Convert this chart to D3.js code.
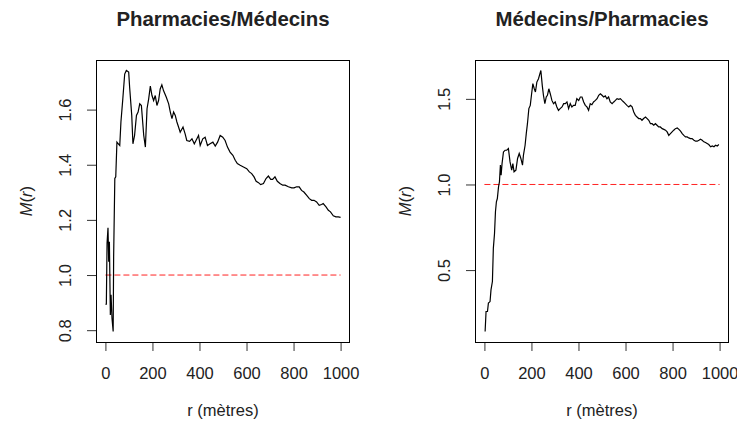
<!DOCTYPE html>
<html>
<head>
<meta charset="utf-8">
<script src="https://cdn.jsdelivr.net/npm/d3@7"></script>
<style>
  body { margin: 0; background: #fff; }
  text { font-family: "Liberation Sans", Arial, sans-serif; fill: #222; }
</style>
</head>
<body>
<div id="chart"></div>
<script>
// valeurs
const titres = ["Pharmacies/Médecins", "Médecins/Pharmacies"];
const xTicks = [0, 200, 400, 600, 800, 1000];
const yTicksPM = [0.8, 1.0, 1.2, 1.4, 1.6];
const yTicksMP = [0.5, 1.0, 1.5];
const reference = 1;

// Pharmacies/Médecins
const rPM = [0, 4, 7, 11, 14, 17, 21, 24, 28, 33, 35, 40, 44, 49, 55, 61, 66, 74, 82, 89,
  99, 103, 112, 117, 124, 132, 139, 146, 153, 163, 170, 177, 184, 191, 198, 205, 212, 219, 226, 233,
  240, 247, 259, 269, 276, 283, 290, 297, 304, 311, 318, 330, 339, 346, 358, 368, 378, 389, 396, 403,
  414, 424, 434, 445, 457, 467, 477, 488, 499, 509, 519, 530, 542, 552, 561, 573, 587, 601, 612, 622,
  632, 641, 651, 660, 672, 683, 693, 703, 711, 721, 731, 742, 754, 764, 778, 792, 802, 813, 824, 834,
  844, 856, 867, 877, 887, 898, 909, 919, 926, 938, 948, 957, 969, 980, 990, 1000];
const mPM = [0.894, 0.894, 1.115, 1.171, 1.048, 1.121, 0.855, 0.928, 0.843, 0.795, 1.066, 1.350, 1.356, 1.482, 1.476, 1.470, 1.555, 1.639, 1.729, 1.742,
  1.736, 1.681, 1.579, 1.476, 1.506, 1.579, 1.591, 1.621, 1.615, 1.506, 1.464, 1.603, 1.639, 1.685, 1.651, 1.633, 1.651, 1.615, 1.633, 1.675,
  1.690, 1.669, 1.645, 1.621, 1.591, 1.567, 1.591, 1.579, 1.555, 1.537, 1.518, 1.537, 1.512, 1.488, 1.485, 1.494, 1.476, 1.494, 1.506, 1.470,
  1.494, 1.500, 1.470, 1.476, 1.482, 1.468, 1.482, 1.506, 1.500, 1.488, 1.464, 1.446, 1.434, 1.416, 1.404, 1.398, 1.392, 1.386, 1.374, 1.368,
  1.356, 1.340, 1.335, 1.328, 1.332, 1.350, 1.359, 1.347, 1.347, 1.356, 1.340, 1.332, 1.326, 1.326, 1.320, 1.316, 1.316, 1.320, 1.320, 1.307,
  1.301, 1.289, 1.277, 1.271, 1.271, 1.265, 1.253, 1.256, 1.259, 1.247, 1.235, 1.229, 1.215, 1.211, 1.211, 1.209];

// Médecins/Pharmacies
const rMP = [3, 7, 13, 17, 24, 28, 34, 38, 43, 47, 51, 55, 60, 64, 68, 71, 75, 81, 88, 95,
  102, 109, 116, 121, 126, 134, 141, 148, 155, 162, 166, 173, 178, 183, 189, 195, 200, 206, 212, 217,
  223, 230, 234, 240, 246, 251, 257, 263, 268, 274, 280, 287, 294, 301, 308, 315, 322, 330, 337, 344,
  351, 358, 365, 372, 379, 386, 393, 401, 408, 415, 422, 429, 436, 443, 450, 457, 464, 472, 479, 486,
  493, 500, 507, 514, 521, 528, 535, 543, 550, 557, 564, 571, 578, 585, 592, 599, 606, 614, 621, 628,
  635, 642, 649, 656, 663, 670, 677, 685, 692, 699, 706, 713, 720, 727, 734, 741, 748, 756, 763, 770,
  777, 784, 791, 798, 805, 812, 820, 827, 834, 841, 848, 855, 862, 869, 876, 883, 891, 898, 905, 912,
  919, 926, 933, 940, 947, 954, 962, 969, 976, 983, 990, 997];
const mMP = [0.141, 0.258, 0.258, 0.307, 0.316, 0.384, 0.433, 0.627, 0.714, 0.841, 0.899, 0.918, 0.986, 1.016, 1.113, 1.054, 1.122, 1.190, 1.200, 1.200,
  1.210, 1.132, 1.084, 1.122, 1.074, 1.084, 1.152, 1.181, 1.152, 1.113, 1.171, 1.229, 1.297, 1.355, 1.443, 1.462, 1.521, 1.589, 1.559, 1.540,
  1.598, 1.618, 1.637, 1.666, 1.579, 1.521, 1.472, 1.511, 1.521, 1.559, 1.530, 1.491, 1.472, 1.482, 1.453, 1.433, 1.443, 1.453, 1.472, 1.472,
  1.482, 1.443, 1.472, 1.453, 1.462, 1.462, 1.501, 1.491, 1.511, 1.511, 1.482, 1.462, 1.453, 1.433, 1.472, 1.466, 1.482, 1.491, 1.501, 1.521,
  1.530, 1.521, 1.511, 1.517, 1.501, 1.511, 1.482, 1.472, 1.482, 1.491, 1.501, 1.497, 1.501, 1.491, 1.482, 1.472, 1.462, 1.453, 1.462, 1.453,
  1.423, 1.404, 1.394, 1.385, 1.385, 1.375, 1.385, 1.394, 1.385, 1.375, 1.355, 1.355, 1.346, 1.355, 1.346, 1.336, 1.336, 1.326, 1.322, 1.317,
  1.307, 1.287, 1.297, 1.307, 1.317, 1.326, 1.330, 1.322, 1.311, 1.297, 1.287, 1.278, 1.278, 1.272, 1.268, 1.268, 1.258, 1.253, 1.253, 1.258,
  1.264, 1.258, 1.249, 1.245, 1.239, 1.233, 1.220, 1.225, 1.220, 1.229, 1.225, 1.233];

const width = 737, height = 423;
const plotTop = 60, plotBottom = 342;

const svg = d3.select('#chart').append('svg')
  .attr('width', width)
  .attr('height', height);

// domaine a la R : etendue + 4%
function pad(ext){
  const d = (ext[1] - ext[0]) * 0.04;
  return [ext[0] - d, ext[1] + d];
}

function panel(left, right, titre, rs, ms, yTicks){
  const x = d3.scaleLinear().domain(pad([0, 1000])).range([left, right]);
  const y = d3.scaleLinear().domain(pad(d3.extent(ms))).range([plotBottom, plotTop]);
  const g = svg.append('g');
  const cx = (left + right) / 2;

  // titre
  g.append('text')
    .attr('x', cx).attr('y', 26)
    .attr('text-anchor', 'middle')
    .style('font-size', '20.4px')
    .style('font-weight', 'bold')
    .text(titre);

  // axe x
  const ax = g.append('g').attr('transform', `translate(0,${plotBottom})`)
    .call(d3.axisBottom(x).tickValues(xTicks).tickSize(9).tickSizeOuter(0).tickPadding(16).tickFormat(d3.format('d')));
  ax.select('.domain').remove();
  ax.selectAll('line').attr('stroke', '#333');
  ax.selectAll('text').style('font-size', '16.5px').attr('fill', '#222').style('font-family', '"Liberation Sans", Arial, sans-serif');

  // axe y (etiquettes verticales)
  const ay = g.append('g').attr('transform', `translate(${left},0)`)
    .call(d3.axisLeft(y).tickValues(yTicks).tickSize(9).tickSizeOuter(0).tickFormat(d3.format('.1f')));
  ay.select('.domain').remove();
  ay.selectAll('line').attr('stroke', '#333');
  ay.selectAll('text')
    .attr('x', null).attr('dy', null)
    .attr('text-anchor', 'middle')
    .attr('transform', 'translate(-25,0) rotate(-90)')
    .attr('fill', '#222')
    .style('font-size', '16.5px')
    .style('font-family', '"Liberation Sans", Arial, sans-serif');

  // libelles
  g.append('text')
    .attr('x', cx).attr('y', 416)
    .attr('text-anchor', 'middle')
    .style('font-size', '16.5px')
    .text('r (mètres)');

  const lab = g.append('text')
    .attr('transform', `translate(${left - 64},${(plotTop + plotBottom) / 2}) rotate(-90)`)
    .attr('text-anchor', 'middle')
    .style('font-size', '16.5px');
  lab.append('tspan').style('font-style', 'italic').text('M');
  lab.append('tspan').text('(');
  lab.append('tspan').style('font-style', 'italic').text('r');
  lab.append('tspan').text(')');

  // ligne de reference
  g.append('line')
    .attr('x1', x(0)).attr('x2', x(1000))
    .attr('y1', y(reference)).attr('y2', y(reference))
    .attr('stroke', '#f22')
    .attr('stroke-width', 1)
    .attr('stroke-dasharray', '6,3');

  // courbe
  const pts = rs.map((r, i) => [r, ms[i]]);
  g.append('path')
    .datum(pts)
    .attr('fill', 'none')
    .attr('stroke', '#000')
    .attr('stroke-width', 1.2)
    .attr('d', d3.line().x(d => x(d[0])).y(d => y(d[1])));

  // cadre
  g.append('rect')
    .attr('x', left + 0.5).attr('y', plotTop + 0.5)
    .attr('width', right - left - 1).attr('height', plotBottom - plotTop)
    .attr('fill', 'none')
    .attr('stroke', '#000');
}

panel(96, 350, titres[0], rPM, mPM, yTicksPM);
panel(475, 729, titres[1], rMP, mMP, yTicksMP);
</script>
</body>
</html>
